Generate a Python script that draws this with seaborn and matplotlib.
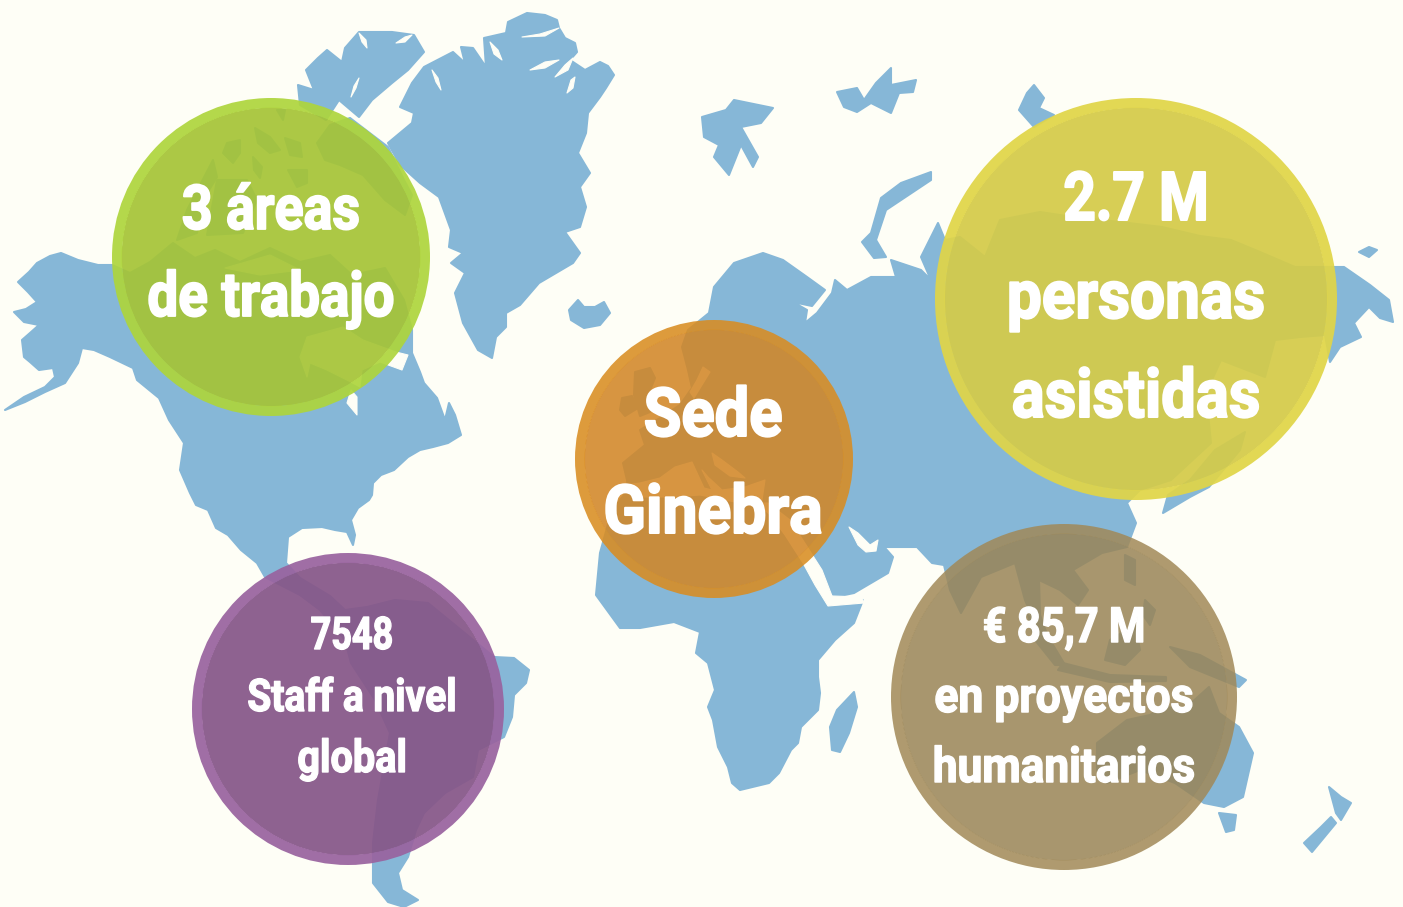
import matplotlib
matplotlib.use("Agg")
import matplotlib.pyplot as plt
import matplotlib.patheffects as pe
from matplotlib.transforms import Affine2D
import pandas as pd
import seaborn as sns

BG = "#FEFEF6"
LAND = "#86B7D7"

# ---- map outlines (image pixel coordinates) ----
north_america = [(5,410),(24,397),(45,387),(55,377),(53,368),(39,370),(30,362),(24,357),(22,340),(30,333),(39,325),(24,322),(14,312),(26,309),(37,302),(28,292),(18,282),(29,272),(37,263),(50,256),(61,253),(78,260),(98,265),(112,265),(130,273),(150,262),(173,243),(195,258),(215,250),(240,262),(270,248),(300,262),(330,255),(352,275),(385,268),(404,300),(412,330),(412,353),(420,372),(424,383),(437,398),(445,420),(449,403),(455,415),(461,435),(448,443),(433,447),(420,450),(408,457),(394,470),(381,475),(373,483),(372,495),(369,500),(358,508),(351,520),(355,535),(353,545),(347,532),(335,530),(322,527),(302,528),(288,537),(286,563),(300,578),(330,596),(345,610),(367,607),(395,600),(428,603),(461,630),(494,657),(514,658),(529,670),(526,683),(514,695),(512,717),(504,737),(478,750),(473,777),(445,793),(424,813),(416,830),(408,857),(398,873),(402,890),(418,900),(404,907),(388,902),(373,883),(373,843),(378,800),(390,733),(375,700),(351,663),(345,640),(320,610),(300,595),(265,577),(257,563),(241,550),(228,535),(216,528),(208,510),(196,505),(190,493),(180,470),(184,443),(169,420),(159,398),(137,380),(133,368),(110,357),(94,350),(82,348),(78,363),(65,383),(45,392),(25,402)]
greenland = [(527,13),(545,15),(557,20),(559,28),(565,38),(575,43),(577,52),(570,60),(585,70),(600,62),(608,66),(614,75),(606,88),(600,97),(588,113),(586,133),(578,153),(590,173),(580,187),(586,207),(580,227),(565,232),(580,253),(573,263),(539,283),(520,305),(506,313),(506,327),(496,337),(492,358),(478,350),(463,323),(455,293),(465,273),(451,263),(463,253),(449,247),(451,230),(439,197),(420,183),(400,165),(388,143),(412,123),(414,113),(400,107),(412,83),(424,67),(453,52),(465,63),(461,47),(473,48),(486,67),(484,38),(506,33),(508,22)]
ellesmere = [(306,70),(318,58),(327,50),(342,62),(345,48),(359,32),(392,32),(414,35),(424,52),(408,70),(392,83),(372,100),(359,117),(339,100),(326,120),(300,105),(298,85),(314,90)]
arctic_islands = [
    [(227,143),(240,140),(240,153),(233,163),(223,153)],
    [(255,128),(270,137),(280,150),(270,153),(258,143)],
    [(285,138),(300,143),(302,157),(290,155)],
    [(253,157),(262,167),(260,178),(254,170)],
    [(288,170),(307,170),(307,183),(297,187)],
    [(277,110),(285,110),(283,120)],
    [(317,143),(330,125),(350,118),(388,147),(404,180),(412,195),(405,215),(385,200),(363,175),(340,165),(325,160)],
    [(177,240),(187,210),(213,160),(217,177),(203,200),(197,233)],
    [(217,180),(247,180),(257,200),(243,233),(207,235)],
]
iceland = [(569,310),(578,300),(584,307),(595,307),(604,302),(610,313),(600,325),(584,328),(571,320)]
afro_eurasia = [(596,595),(600,553),(612,510),(628,490),(627,480),(623,463),(645,445),(640,430),(660,418),(680,405),(692,388),(688,370),(682,347),(688,330),(709,313),(714,287),(734,263),(763,253),(783,260),(807,277),(825,290),(812,306),(793,302),(807,310),(805,323),(817,313),(832,293),(835,280),(847,290),(871,277),(896,277),(891,260),(921,270),(931,280),(921,257),(938,223),(945,240),(960,237),(985,257),(1000,220),(1040,212),(1073,217),(1120,222),(1162,227),(1200,236),(1231,240),(1260,252),(1295,267),(1344,267),(1370,285),(1389,300),(1393,322),(1380,318),(1369,307),(1354,323),(1361,337),(1340,347),(1330,362),(1325,335),(1300,337),(1275,340),(1265,377),(1221,360),(1206,393),(1211,443),(1171,480),(1140,490),(1127,503),(1136,523),(1127,547),(1102,553),(1073,570),(1088,590),(1078,605),(1060,590),(1039,580),(1040,615),(1052,648),(1040,635),(1025,600),(1015,563),(981,577),(961,613),(950,590),(944,565),(932,563),(917,547),(883,547),(878,540),(893,557),(888,573),(854,593),(835,597),(822,583),(808,563),(830,602),(863,600),(854,623),(835,640),(818,660),(818,677),(820,693),(818,710),(801,727),(798,743),(791,750),(779,773),(769,783),(740,790),(732,783),(728,767),(718,747),(713,720),(708,707),(715,690),(708,663),(696,653),(700,632),(674,622),(640,628),(620,628)]
water_holes = [
    [(610,487),(640,483),(660,478),(675,467),(692,462),(704,488),(712,490),(702,470),(708,477),(722,490),(745,487),(765,480),(762,500),(735,502),(700,495),(672,497),(640,497)],
    [(712,453),(722,460),(738,472),(745,478),(730,476),(715,465)],
    [(758,503),(768,503),(790,520),(808,548),(822,570),(832,596),(862,597),(864,603),(828,606),(815,585),(803,563),(785,535),(770,515)],
    [(849,527),(858,533),(870,545),(878,540),(876,551),(866,552),(858,545)],
    [(703,367),(710,372),(702,385),(694,398),(690,392),(697,380)],
    [(300,357),(307,337),(343,327),(363,340),(396,352),(408,355),(402,370),(380,362),(362,370),(360,387),(347,380),(327,370),(310,363),(307,377)],
    [(347,403),(351,390),(357,397),(357,415)],
    [(225,268),(270,255),(300,270),(260,275)],
    [(522,37),(540,34),(559,28),(545,36)],
    [(530,70),(545,62),(559,60),(545,68)],
    [(555,77),(565,65),(573,58),(568,70)],
    [(567,93),(571,80),(575,77),(573,88)],
    [(359,33),(366,40),(367,48),(362,42)],
    [(396,43),(405,37),(412,35),(405,42)],
    [(359,78),(356,88),(351,97),(354,86)],
    [(490,42),(498,50),(502,60),(494,54)],
    [(432,70),(438,78),(441,90),(436,82)],
]
europe_islands = [
    [(635,372),(650,368),(655,378),(648,395),(650,412),(640,416),(634,395)],
    [(622,398),(632,396),(638,408),(625,416),(620,410)],
]
svalbard = [(702,117),(726,110),(734,100),(773,108),(761,123),(741,127),(758,157),(753,167),(741,145),(729,175),(714,157),(719,145),(704,137)]
franz_josef = [(837,92),(857,88),(864,100),(876,83),(891,68),(891,85),(916,80),(913,92),(899,93),(891,113),(871,103),(857,112),(844,107)]
severnaya = [(1034,85),(1044,98),(1039,108),(1054,115),(1034,127),(1019,110),(1027,93)]
novaya_zemlya = [(931,172),(931,180),(886,210),(876,240),(886,257),(874,258),(862,242),(871,233),(881,198),(901,183)]
wrangel = [(1359,252),(1369,247),(1377,250),(1369,257)]
japan = [(1163,513),(1168,495),(1190,480),(1215,450),(1245,432),(1240,450),(1209,487),(1190,497)]
madagascar = [(854,692),(857,707),(849,733),(840,752),(832,750),(830,727),(837,710)]
australia = [(1097,743),(1127,720),(1150,715),(1165,705),(1180,713),(1209,687),(1219,713),(1239,727),(1253,753),(1243,797),(1224,807),(1204,803),(1175,783),(1140,770),(1107,783),(1097,770)]
new_guinea = [(1170,647),(1200,655),(1246,680),(1239,687),(1190,667)]
indonesia = [
    [(1063,663),(1110,675),(1166,677),(1166,681),(1110,682),(1058,670)],
    [(1028,615),(1050,640),(1065,665),(1055,665),(1035,640)],
    [(1110,640),(1135,625),(1140,650),(1125,665),(1105,660)],
    [(1125,555),(1135,560),(1135,585),(1125,580)],
    [(1145,600),(1155,610),(1150,625),(1143,615)],
]
tasmania = [(1219,813),(1236,815),(1234,830),(1226,832)]
nz_north = [(1329,787),(1341,797),(1351,803),(1341,820),(1336,813)]
nz_south = [(1331,817),(1336,823),(1312,852),(1304,843),(1321,827)]

land_shapes = [north_america, greenland, ellesmere, iceland, afro_eurasia, svalbard, franz_josef,
               severnaya, novaya_zemlya, wrangel, japan, madagascar, australia, new_guinea,
               tasmania, nz_north, nz_south] + arctic_islands + indonesia + europe_islands

# ---- bubbles ----
bubble_x = [271, 1136, 714, 348, 1064]
bubble_y = [257, 299, 459, 709, 697]
bubble_radius = [159, 201, 139, 156, 173]
fill_colors = ["#A5C436", "#D4CB49", "#D28626", "#865688", "#998456"]
ring_colors = ["#AED53C", "#E0D548", "#D98C20", "#99639F", "#A18958"]
fill_alpha = [0.92, 0.93, 0.87, 0.93, 0.85]

# ---- labels ----
label_lines = ["3 áreas", "de trabajo", "2.7 M", "personas", "asistidas", "Sede", "Ginebra",
               "7548", "Staff a nivel", "global", "€ 85,7 M", "en proyectos", "humanitarios"]
label_x = [271, 271, 1136, 1136, 1136, 713, 713, 352, 352, 352, 1064, 1064, 1064]
label_y = [229, 316, 220, 318, 417, 436, 533, 649, 711, 772, 642, 712, 782]
label_size = [44.5, 44.5, 48.6, 48.6, 48.6, 48.6, 48.6, 32.4, 32.4, 32.4, 35, 35, 35]
label_squeeze = [0.87, 0.885, 0.84, 0.92, 0.91, 0.91, 0.925, 0.80, 0.865, 0.88, 0.855, 0.915, 0.91]


class Squeeze(pe.AbstractPathEffect):
    """Draws real text narrower about its centre and a little heavier, for the condensed bold look."""
    def __init__(self, centre_px, factor, stroke_pt):
        super().__init__()
        self.centre_px, self.factor, self.stroke_pt = centre_px, factor, stroke_pt

    def draw_path(self, renderer, gc, tpath, affine, rgbFace=None):
        squeeze = Affine2D().translate(-self.centre_px, 0).scale(self.factor, 1).translate(self.centre_px, 0)
        gc0 = renderer.new_gc()
        gc0.copy_properties(gc)
        gc0.set_linewidth(self.stroke_pt)
        gc0.set_foreground("white")
        gc0.set_joinstyle("round")
        renderer.draw_path(gc0, tpath, affine + squeeze, rgbFace)
        gc0.restore()


sns.set_theme(style="white")
plt.rcParams["font.family"] = ["Roboto", "DejaVu Sans"]

fig, ax = plt.subplots(figsize=(14.03, 9.07), dpi=100)
fig.patch.set_facecolor(BG)
ax.set_facecolor(BG)
ax.set_position([0, 0, 1, 1])
ax.set_xlim(0, 1403)
ax.set_ylim(907, 0)

for shape in land_shapes:
    ax.fill(*zip(*shape), facecolor=LAND, edgecolor=LAND, lw=1.5, joinstyle="round", zorder=1)
for shape in water_holes:
    ax.fill(*zip(*shape), facecolor=BG, edgecolor=BG, lw=0.8, joinstyle="round", zorder=2)

RING = 10
px2pt = 72 / fig.dpi
for x, y, r, fc, rc, a in zip(bubble_x, bubble_y, bubble_radius, fill_colors, ring_colors, fill_alpha):
    one = pd.DataFrame({"x": [x], "y": [y]})
    sns.scatterplot(data=one, x="x", y="y", ax=ax, s=(2 * (r - RING + 0.4) * px2pt) ** 2,
                    color=matplotlib.colors.to_rgba(fc, a), edgecolor="none", linewidth=0, zorder=3, legend=False)
    sns.scatterplot(data=one, x="x", y="y", ax=ax, s=(2 * (r - RING / 2) * px2pt) ** 2,
                    linewidth=RING * px2pt, zorder=3, legend=False)
    ring = ax.collections[-1]
    ring.set_alpha(None)
    ring.set_facecolor("none")
    ring.set_edgecolor(matplotlib.colors.to_rgba(rc, a))

for t, x, y, fs, k in zip(label_lines, label_x, label_y, label_size, label_squeeze):
    centre_px = ax.transData.transform((x, y))[0]
    ax.text(x, y, t, color="white", fontsize=fs, fontweight="bold", ha="center", va="baseline", zorder=5,
            path_effects=[Squeeze(centre_px, k, 0.03 * fs)])

ax.set_xlabel("")
ax.set_ylabel("")
ax.axis("off")
fig.savefig("out.png", dpi=100, facecolor=BG)
